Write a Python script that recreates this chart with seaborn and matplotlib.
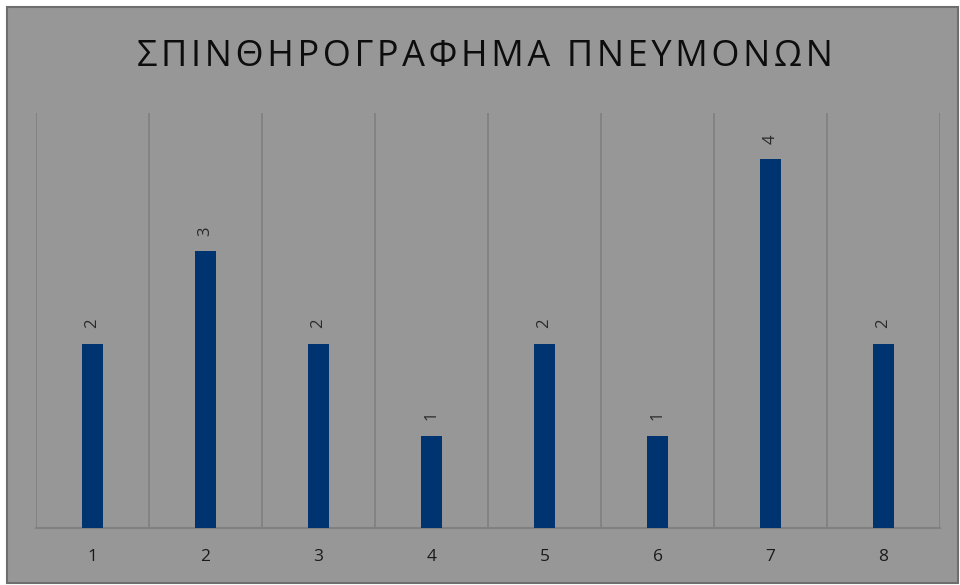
import matplotlib
matplotlib.use("Agg")
import matplotlib.pyplot as plt
from matplotlib.patches import Rectangle
import seaborn as sns
import pandas as pd

categories = ["1", "2", "3", "4", "5", "6", "7", "8"]
values = [2, 3, 2, 1, 2, 1, 4, 2]
title = "ΣΠΙΝΘΗΡΟΓΡΑΦΗΜΑ ΠΝΕΥΜΟΝΩΝ"

bg = "#979797"
bar_color = "#003470"
grid_color = "#808080"

sns.set_theme(style="white")
plt.rcParams["font.family"] = ["Open Sans", "DejaVu Sans"]

df = pd.DataFrame({"cat": categories, "val": values})

fig = plt.figure(figsize=(9.6, 5.85), dpi=100, facecolor="white")
# chart area with dark border, kept behind the axes
fig.patches.append(Rectangle((7 / 960, 2 / 585), 951 / 960, 576 / 585,
                             transform=fig.transFigure, facecolor=bg,
                             edgecolor="#6e6e6e", linewidth=1.5, zorder=-5))

ax = fig.add_axes([36 / 960, 57 / 585, 904 / 960, 415 / 585])
ax.set_zorder(2)
ax.set_facecolor(bg)
sns.barplot(data=df, x="cat", y="val", color=bar_color, width=0.18,
            saturation=1, ax=ax, zorder=3)
for p in ax.patches:
    p.set_linewidth(0)

ax.set_ylim(0, 4.5)
ax.set_xlim(-0.5, len(categories) - 0.5)
for b in range(len(categories) + 1):
    ax.axvline(b - 0.5, color=grid_color, linewidth=1.2, zorder=1)

for s in ["top", "right", "left"]:
    ax.spines[s].set_visible(False)
ax.spines["bottom"].set_color(grid_color)
ax.spines["bottom"].set_linewidth(1.5)
ax.set_yticks([])
ax.set_xlabel("")
ax.set_ylabel("")
ax.tick_params(axis="x", length=0, pad=15, labelsize=12.5, labelcolor="#1a1a1a")

for i, v in enumerate(values):
    ax.annotate(str(v), (i, v), xytext=(0, 11), textcoords="offset points",
                rotation=90, ha="center", va="bottom", fontsize=12,
                color="#2a2a2a")

fig.text(485 / 960, 1 - 57 / 585, "\u200a".join(title), ha="center",
         va="center", fontsize=26, color="#0d0d0d")

fig.savefig("out.png", dpi=100, facecolor="white")
